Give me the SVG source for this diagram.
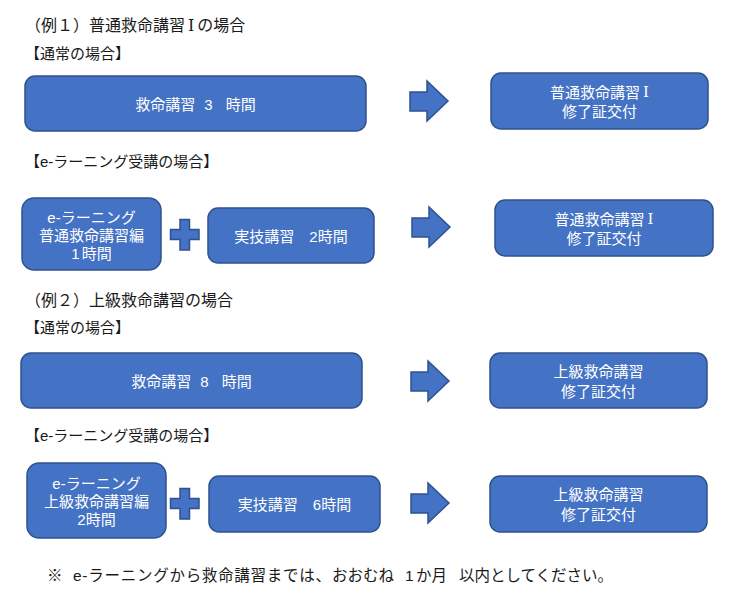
<svg xmlns="http://www.w3.org/2000/svg" width="743" height="601" viewBox="0 0 743 601">
<style>
.bg{fill:#ffffff}
.box{fill:#4472C4;stroke:#2F528F;stroke-width:1.5}
.arrow{fill:#4472C4;stroke:#2F528F;stroke-width:1.5;stroke-linejoin:miter}
.bt{font-family:"Liberation Sans","Noto Sans CJK JP",sans-serif;font-size:15px;fill:#ffffff;text-anchor:middle;dominant-baseline:central}
.h1{font-family:"Liberation Sans","Noto Sans CJK JP",sans-serif;font-size:16px;fill:#1a1a1a;dominant-baseline:central}
.h2{font-family:"Liberation Sans","Noto Sans CJK JP",sans-serif;font-size:15px;fill:#1a1a1a;dominant-baseline:central}
.note{font-family:"Liberation Sans","Noto Sans CJK JP",sans-serif;font-size:15.5px;fill:#1a1a1a;dominant-baseline:central}
.rn{font-family:"DejaVu Serif","Noto Sans CJK JP",serif}
</style>
<rect class="bg" x="0" y="0" width="743" height="601"/>

<g id="headings">
<text class="h1" x="25" y="25">（例１）普通救命講習<tspan class="rn" dx="3">Ⅰ</tspan><tspan dx="3">の場合</tspan></text>
<text class="h2" x="25" y="53">【通常の場合】</text>
<text class="h2" x="25" y="161">【e-ラーニング受講の場合】</text>
<text class="h1" x="25" y="300">（例２）上級救命講習の場合</text>
<text class="h2" x="25" y="327">【通常の場合】</text>
<text class="h2" x="25" y="435">【e-ラーニング受講の場合】</text>
<text class="note" y="575"><tspan x="47">※</tspan><tspan x="73" textLength="258" lengthAdjust="spacing">e-ラーニングから救命講習までは、</tspan><tspan x="332">おおむね</tspan><tspan x="405">1</tspan><tspan x="416">か月</tspan><tspan x="459">以内としてください。</tspan></text>
</g>

<g id="connectors">
<path class="arrow" d="M410,92 H427 V81 L448,101 L427,121 V111 H410 Z"/>
<path class="arrow" d="M412,218 H429 V207 L450,227 L429,247 V237 H412 Z"/>
<path class="arrow" d="M411,372 H428 V361 L449,381 L428,401 V391 H411 Z"/>
<path class="arrow" d="M411,494 H428 V483 L449,503 L428,523 V513 H411 Z"/>
<path class="arrow" d="M180,219.5 H189.5 V229.5 H199 V239.5 H189.5 V250 H180 V239.5 H170.5 V229.5 H180 Z"/>
<path class="arrow" d="M180,488.5 H189.5 V498.5 H199 V508.5 H189.5 V519 H180 V508.5 H170.5 V498.5 H180 Z"/>
</g>

<g id="n1-normal">
<rect class="box" x="25" y="76" width="341" height="55" rx="10"/>
<text class="bt" x="195.5" y="104">救命講習<tspan dx="9">3</tspan><tspan dx="13">時間</tspan></text>
</g>
<g id="n1-cert">
<rect class="box" x="491" y="73" width="217" height="56" rx="10"/>
<text class="bt" x="599.5" y="92">普通救命講習<tspan class="rn" dx="3">Ⅰ</tspan></text>
<text class="bt" x="599.5" y="111.5">修了証交付</text>
</g>

<g id="n1-elearning">
<rect class="box" x="22" y="198" width="139" height="72" rx="12"/>
<text class="bt" x="91.5" y="217">e-ラーニング</text>
<text class="bt" x="91.5" y="235">普通救命講習編</text>
<text class="bt" x="91.5" y="253">1<tspan dx="2">時間</tspan></text>
</g>
<g id="n1-practical">
<rect class="box" x="208" y="208" width="166" height="55" rx="10"/>
<text class="bt" x="291" y="236">実技講習<tspan dx="15">2時間</tspan></text>
</g>
<g id="n1-cert2">
<rect class="box" x="495" y="200" width="218" height="56" rx="10"/>
<text class="bt" x="604" y="219">普通救命講習<tspan class="rn" dx="3">Ⅰ</tspan></text>
<text class="bt" x="604" y="238.5">修了証交付</text>
</g>

<g id="n2-normal">
<rect class="box" x="21" y="353" width="341" height="55" rx="10"/>
<text class="bt" x="191.5" y="381">救命講習<tspan dx="9">8</tspan><tspan dx="13">時間</tspan></text>
</g>
<g id="n2-cert">
<rect class="box" x="490" y="353" width="217" height="55" rx="10"/>
<text class="bt" x="598.5" y="371.5">上級救命講習</text>
<text class="bt" x="598.5" y="391">修了証交付</text>
</g>

<g id="n2-elearning">
<rect class="box" x="27" y="463" width="139" height="75" rx="12"/>
<text class="bt" x="96.5" y="483">e-ラーニング</text>
<text class="bt" x="96.5" y="501">上級救命講習編</text>
<text class="bt" x="96.5" y="519">2時間</text>
</g>
<g id="n2-practical">
<rect class="box" x="209" y="476" width="171" height="56" rx="10"/>
<text class="bt" x="294.5" y="504">実技講習<tspan dx="15">6時間</tspan></text>
</g>
<g id="n2-cert2">
<rect class="box" x="490" y="476" width="217" height="56" rx="10"/>
<text class="bt" x="598.5" y="494.5">上級救命講習</text>
<text class="bt" x="598.5" y="514">修了証交付</text>
</g>
</svg>
